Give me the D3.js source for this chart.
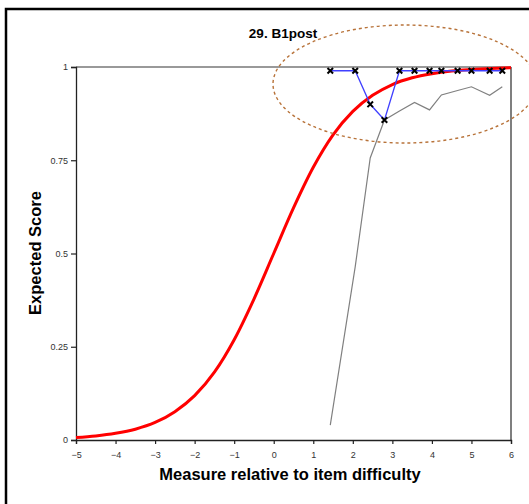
<!DOCTYPE html>
<html>
<head>
<meta charset="utf-8">
<script src="https://cdnjs.cloudflare.com/ajax/libs/d3/7.8.5/d3.min.js"></script>
<style>
  body { margin: 0; background: #fff; }
  svg text { font-family: "Liberation Sans", Arial, sans-serif; }
</style>
</head>
<body>
<div id="chart"></div>
<script>
// Data
var chartTitle = "29. B1post";
var xTicks = [-5, -4, -3, -2, -1, 0, 1, 2, 3, 4, 5, 6];
var yTicks = [0, 0.25, 0.5, 0.75, 1];
var yTickLabels = ["0", "0.25", "0.5", "0.75", "1"];

// empirical points (blue with x markers)
var empX = [1.43, 2.06, 2.44, 2.80, 3.18, 3.56, 3.94, 4.24, 4.65, 5.0, 5.46, 5.78];
var empY = [0.99, 0.99, 0.90, 0.858, 0.99, 0.99, 0.99, 0.99, 0.99, 0.99, 0.99, 0.99];
// lower confidence band (gray)
var lowY = [0.04, 0.464, 0.756, 0.858, 0.882, 0.905, 0.885, 0.925, 0.937, 0.947, 0.924, 0.947];
// model curve sample points (x in logits)
var modelX = [-5, -4.5, -4, -3.5, -3, -2.5, -2, -1.5, -1, -0.5, 0, 0.5, 1, 1.5, 2, 2.5, 3, 3.5, 4, 4.5, 5, 5.5, 6];
var modelY = [0.0067, 0.011, 0.018, 0.029, 0.047, 0.076, 0.119, 0.182, 0.269, 0.378, 0.5, 0.622, 0.731, 0.818, 0.881, 0.924, 0.953, 0.971, 0.982, 0.989, 0.993, 0.996, 0.998];

var width = 529,
    height = 504;

var svg = d3.select("#chart")
   .append("svg")
   .attr("width", width)
   .attr("height", height);

// outer frame (only left and top edges are visible in the picture)
svg.append("rect")
   .attr("x", 6).attr("y", 9)
   .attr("width", 540).attr("height", 520)
   .attr("fill", "none")
   .attr("stroke", "#000")
   .attr("stroke-width", 2.5);

var x = d3.scaleLinear().domain([-5, 6]).range([76, 511]);
var y = d3.scaleLinear().domain([0, 1]).range([440, 67]);

// top and right plot borders
svg.append("line")
   .attr("x1", x(-5)).attr("x2", x(6))
   .attr("y1", y(1)).attr("y2", y(1))
   .attr("stroke", "#999").attr("stroke-width", 2);
svg.append("line")
   .attr("x1", x(6)).attr("x2", x(6))
   .attr("y1", y(1)).attr("y2", y(0))
   .attr("stroke", "#555").attr("stroke-width", 1.5);

// axes
var xAxis = svg.append("g")
   .attr("transform", "translate(0," + y(0) + ")")
   .call(d3.axisBottom(x).tickValues(xTicks).tickSize(4).tickSizeInner(4));
var yAxis = svg.append("g")
   .attr("transform", "translate(" + x(-5) + ",0)")
   .call(d3.axisLeft(y).tickValues(yTicks).tickSize(5)
      .tickFormat(function(d, i) { return yTickLabels[i]; }));

[xAxis, yAxis].forEach(function(a) {
   a.select(".domain").attr("stroke", "#222").attr("stroke-width", 1.3);
   a.selectAll(".tick line").attr("stroke", "#222").attr("stroke-width", 1.2);
   a.selectAll(".tick text")
      .attr("fill", "#333")
      .style("font-size", "9px");
});
xAxis.selectAll(".tick text").attr("dy", "1.2em");
yAxis.selectAll(".tick text").attr("x", -8);

// lower band (gray)
var lowData = empX.map(function(d, i) { return [d, lowY[i]]; });
svg.append("path")
   .datum(lowData)
   .attr("fill", "none")
   .attr("stroke", "#808080")
   .attr("stroke-width", 1.2)
   .attr("d", d3.line().x(function(d) { return x(d[0]); }).y(function(d) { return y(d[1]); }));

// model ICC (red)
var modelData = modelX.map(function(d, i) { return [d, modelY[i]]; });
svg.append("path")
   .datum(modelData)
   .attr("fill", "none")
   .attr("stroke", "#ff0000")
   .attr("stroke-width", 3)
   .attr("d", d3.line().curve(d3.curveMonotoneX)
      .x(function(d) { return x(d[0]); }).y(function(d) { return y(d[1]); }));

// empirical (blue)
var empData = empX.map(function(d, i) { return [d, empY[i]]; });
svg.append("path")
   .datum(empData)
   .attr("fill", "none")
   .attr("stroke", "#4040ff")
   .attr("stroke-width", 1.3)
   .attr("d", d3.line().x(function(d) { return x(d[0]); }).y(function(d) { return y(d[1]); }));

// x markers
var sym = d3.symbol().type(d3.symbolX).size(22);
svg.selectAll(".mark")
   .data(empData)
   .enter().append("path")
   .attr("class", "mark")
   .attr("d", sym)
   .attr("transform", function(d) { return "translate(" + x(d[0]) + "," + y(d[1]) + ")"; })
   .attr("fill", "none")
   .attr("stroke", "#000")
   .attr("stroke-width", 2);

// dashed ellipse highlight
svg.append("ellipse")
   .attr("cx", 405).attr("cy", 84)
   .attr("rx", 132).attr("ry", 59)
   .attr("fill", "none")
   .attr("stroke", "#b8733a")
   .attr("stroke-width", 1.4)
   .attr("stroke-dasharray", "3,3");

// title and axis labels
svg.append("text")
   .attr("x", 283).attr("y", 38)
   .attr("text-anchor", "middle")
   .style("font-size", "13.5px").style("font-weight", "bold")
   .text(chartTitle);

svg.append("text")
   .attr("x", 290).attr("y", 480)
   .attr("text-anchor", "middle")
   .style("font-size", "16.5px").style("font-weight", "bold")
   .text("Measure relative to item difficulty");

svg.append("text")
   .attr("transform", "translate(41,253) rotate(-90)")
   .attr("text-anchor", "middle")
   .style("font-size", "16.5px").style("font-weight", "bold")
   .text("Expected Score");
</script>
</body>
</html>
